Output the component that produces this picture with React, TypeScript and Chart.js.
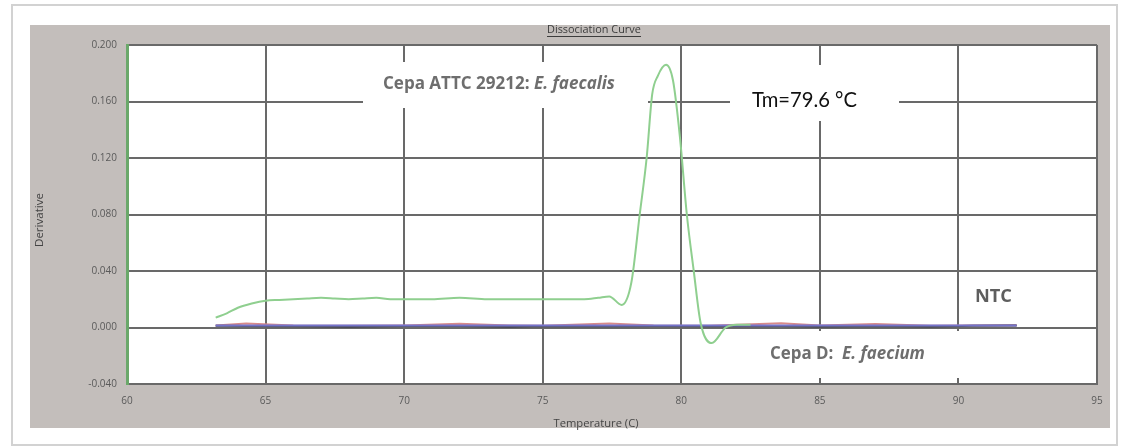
import React, { useEffect, useRef } from "react";
import { Chart, registerables } from "chart.js";

Chart.register(...registerables);

// ---- Data ----
const faecalisTemps = [63.2, 63.6, 64.0, 64.5, 65.0, 65.5, 66.0, 66.5, 67.0, 67.5, 68.0, 68.5, 69.0, 69.5, 70.0, 71.0, 72.0, 73.0, 74.0, 75.0, 76.0, 76.5, 77.0, 77.4, 77.85, 78.2, 78.5, 78.75, 78.95, 79.15, 79.45, 79.7, 79.95, 80.2, 80.45, 80.7, 81.1, 81.6, 82.0, 82.5];
const faecalisDeriv = [0.007, 0.010, 0.014, 0.017, 0.019, 0.0195, 0.020, 0.0205, 0.021, 0.0205, 0.020, 0.0205, 0.021, 0.020, 0.020, 0.020, 0.021, 0.020, 0.020, 0.020, 0.020, 0.020, 0.021, 0.022, 0.016, 0.032, 0.080, 0.120, 0.165, 0.178, 0.186, 0.175, 0.135, 0.080, 0.040, 0.003, -0.011, 0.000, 0.002, 0.002];

const baselineTemps = [63.2, 64.3, 66.0, 68.0, 70.0, 72.0, 73.8, 75.0, 77.4, 79.0, 81.0, 83.6, 85.0, 87.0, 89.0, 90.5, 92.1];
const faeciumDeriv = [0.0015, 0.0015, 0.0015, 0.0015, 0.0015, 0.0015, 0.0015, 0.0015, 0.0015, 0.0015, 0.0015, 0.0015, 0.0015, 0.0015, 0.0015, 0.0015, 0.0015];
const ntcDeriv = [0.0015, 0.0028, 0.0015, 0.0012, 0.0015, 0.0026, 0.0015, 0.0012, 0.0028, 0.0014, 0.0012, 0.0030, 0.0015, 0.0024, 0.0013, 0.0015, 0.0016];
const controlDeriv = [0.0012, 0.0010, 0.0009, 0.0004, 0.0010, 0.0011, 0.0004, 0.0010, 0.0008, 0.0011, 0.0009, 0.0010, 0.0005, 0.0010, 0.0006, 0.0012, 0.0014];

const xTickValues = [60, 65, 70, 75, 80, 85, 90, 95];
const yTickValues = [-0.04, 0.0, 0.04, 0.08, 0.12, 0.16, 0.2];

const chartTitle = "Dissociation Curve";
const xTitle = "Temperature (C)";
const yTitle = "Derivative";

const toPoints = (xs: number[], ys: number[]) => xs.map((x, i) => ({ x, y: ys[i] }));

type Part = { text: string; italic?: boolean };

function drawFit(
  ctx: CanvasRenderingContext2D,
  parts: Part[],
  x: number,
  y: number,
  target: number,
  weight: string,
  family: string,
  color: string,
  align: "left" | "center" = "left"
) {
  const base = 20;
  const fontFor = (p: Part, s: number) => `${p.italic ? "italic " : ""}${weight} ${s}px ${family}`;
  let w = 0;
  for (const p of parts) {
    ctx.font = fontFor(p, base);
    w += ctx.measureText(p.text).width;
  }
  const size = (base * target) / w;
  let cx = align === "center" ? x - target / 2 : x;
  ctx.fillStyle = color;
  ctx.textBaseline = "middle";
  ctx.textAlign = "left";
  for (const p of parts) {
    ctx.font = fontFor(p, size);
    ctx.fillText(p.text, cx, y);
    cx += ctx.measureText(p.text).width;
  }
}

const decorPlugin = {
  id: "decor",
  beforeDraw(chart: any) {
    const ctx = chart.ctx as CanvasRenderingContext2D;
    const { chartArea } = chart;
    ctx.save();
    ctx.fillStyle = "#ffffff";
    ctx.fillRect(0, 0, chart.width, chart.height);
    // outer frame
    ctx.strokeStyle = "#d2d2d2";
    ctx.lineWidth = 2;
    ctx.strokeRect(12, 5, 1105, 440);
    // grey panel
    ctx.fillStyle = "#c3bebb";
    ctx.fillRect(30, 25, 1080, 403);
    // plot background
    ctx.fillStyle = "#ffffff";
    ctx.fillRect(chartArea.left, chartArea.top, chartArea.right - chartArea.left, chartArea.bottom - chartArea.top);
    ctx.restore();
  },
  beforeDatasetsDraw(chart: any) {
    const ctx = chart.ctx as CanvasRenderingContext2D;
    ctx.save();
    ctx.fillStyle = "#ffffff";
    ctx.fillRect(363, 62, 285, 46);
    ctx.fillRect(730, 65, 169, 56);
    ctx.fillRect(760, 331, 218, 47);
    ctx.restore();
  },
  afterDraw(chart: any) {
    const ctx = chart.ctx as CanvasRenderingContext2D;
    ctx.save();
    drawFit(ctx, [{ text: "Cepa ATTC 29212: " }, { text: "E. faecalis", italic: true }], 383, 84, 232, "bold", "'Open Sans', sans-serif", "#6e6e6e");
    drawFit(ctx, [{ text: "Tm=79.6 °C" }], 752, 100, 105, "normal", "Lato, sans-serif", "#111111");
    drawFit(ctx, [{ text: "Cepa D:  " }, { text: "E. faecium", italic: true }], 770, 354, 155, "bold", "'Open Sans', sans-serif", "#6e6e6e");
    drawFit(ctx, [{ text: "NTC" }], 975, 297, 37, "bold", "'Open Sans', sans-serif", "#5e5e5e");

    // chart title (underlined)
    drawFit(ctx, [{ text: chartTitle }], 594, 30, 94, "normal", "'Open Sans', sans-serif", "#3c3c3c", "center");
    ctx.strokeStyle = "#3c3c3c";
    ctx.lineWidth = 1;
    ctx.beginPath();
    ctx.moveTo(594 - 47, 36.5);
    ctx.lineTo(594 + 47, 36.5);
    ctx.stroke();

    // axis titles
    drawFit(ctx, [{ text: xTitle }], 596, 424, 85, "normal", "'Open Sans', sans-serif", "#444444", "center");
    ctx.translate(40, 220);
    ctx.rotate(-Math.PI / 2);
    drawFit(ctx, [{ text: yTitle }], 0, 0, 54, "normal", "'Open Sans', sans-serif", "#444444", "center");
    ctx.restore();
  },
};

export default function App() {
  const ref = useRef<HTMLCanvasElement | null>(null);

  useEffect(() => {
    if (!ref.current) return;
    const gridGrey = "#696969";
    const chart = new Chart(ref.current, {
      type: "line",
      data: {
        datasets: [
          {
            label: "Cepa ATTC 29212: E. faecalis",
            data: toPoints(faecalisTemps, faecalisDeriv),
            borderColor: "#8fcf8f",
            borderWidth: 2,
            pointRadius: 0,
            cubicInterpolationMode: "monotone",
          },
          {
            label: "Cepa D: E. faecium",
            data: toPoints(baselineTemps, faeciumDeriv),
            borderColor: "#7474cc",
            borderWidth: 2,
            pointRadius: 0,
          },
          {
            label: "Control",
            data: toPoints(baselineTemps, controlDeriv),
            borderColor: "#4a4a55",
            borderWidth: 2,
            pointRadius: 0,
          },
          {
            label: "NTC",
            data: toPoints(baselineTemps, ntcDeriv),
            borderColor: "#d88a8a",
            borderWidth: 2,
            pointRadius: 0,
          },
        ],
      },
      options: {
        responsive: false,
        animation: false,
        devicePixelRatio: 1,
        layout: { padding: { left: 30, right: 24, top: 45, bottom: 19 } },
        plugins: {
          legend: { display: false },
          title: { display: false },
          tooltip: { enabled: false },
        },
        scales: {
          x: {
            type: "linear",
            min: 60,
            max: 95,
            afterBuildTicks: (scale: any) => {
              scale.ticks = xTickValues.map((v) => ({ value: v }));
            },
            afterFit: (scale: any) => {
              scale.height = 44;
            },
            grid: {
              drawTicks: false,
              lineWidth: 2,
              color: (c: any) => (c.tick && c.tick.value === 60 ? "#6aa86a" : gridGrey),
            },
            border: { display: true, color: gridGrey, width: 2 },
            ticks: {
              padding: 11,
              color: "#5a5a5a",
              font: { size: 10, family: "'Open Sans', sans-serif" },
              callback: (v: any) => String(v),
            },
          },
          y: {
            type: "linear",
            min: -0.04,
            max: 0.2,
            afterBuildTicks: (scale: any) => {
              scale.ticks = yTickValues.map((v) => ({ value: v }));
            },
            afterFit: (scale: any) => {
              scale.width = 97;
            },
            grid: { drawTicks: false, lineWidth: 2, color: gridGrey },
            border: { display: true, color: "#6aa86a", width: 3 },
            ticks: {
              padding: 10,
              color: "#5a5a5a",
              font: { size: 10, family: "'Open Sans', sans-serif" },
              callback: (v: any) => Number(v).toFixed(3),
            },
          },
        },
      },
      plugins: [decorPlugin],
    } as any);
    return () => chart.destroy();
  }, []);

  return (
    <div style={{ position: "absolute", left: 0, top: 0, width: 1121, height: 447, background: "#fff" }}>
      <canvas ref={ref} width={1121} height={447} style={{ display: "block", width: 1121, height: 447 }} />
    </div>
  );
}
